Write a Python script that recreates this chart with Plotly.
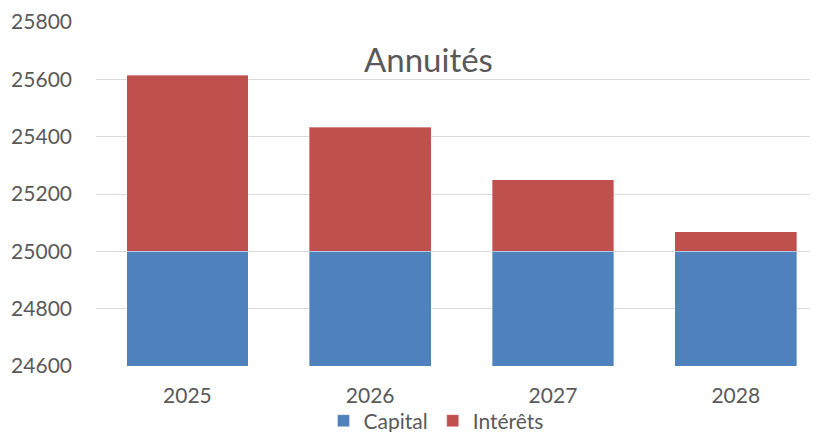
import plotly.graph_objects as go

years = ["2025", "2026", "2027", "2028"]
capital = [25000, 25000, 25000, 25000]
interets = [615, 433, 250, 68]

FONT = "Lato"
GREY = "#595959"

# the page body adds an 8px offset; work in figure pixels (page - 8)
OFF = 8
W, H = 818 - OFF, 432 - OFF
L, R, T, B = 96 - OFF, 818 - OFF, 22 - OFF, 366 - OFF  # plot area in figure pixels

fig = go.Figure()
fig.add_trace(go.Bar(x=years, y=capital, name="Capital",
                     marker=dict(color="#4F81BD", line=dict(color="rgba(255,255,255,0.35)", width=1))))
fig.add_trace(go.Bar(x=years, y=interets, name="Intérêts",
                     marker=dict(color="#C0504D", line=dict(color="rgba(255,255,255,0.35)", width=1))))

fig.update_layout(
    barmode="stack",
    bargap=0.334,
    width=W, height=H,
    margin=dict(l=L, r=W - R, t=T, b=H - B, autoexpand=False),
    paper_bgcolor="white", plot_bgcolor="white",
    font=dict(family=FONT, color=GREY, size=21),
    showlegend=True,
    legend=dict(orientation="h", x=(436 - OFF - L) / (R - L), xanchor="center",
                y=(B - (421 - OFF)) / (B - T), yanchor="middle",
                bgcolor="rgba(0,0,0,0)", itemwidth=30,
                font=dict(size=21, color=GREY), traceorder="normal"),
    annotations=[dict(text="Annuités", x=(428 - OFF - L) / (R - L),
                      y=(B - (59 - OFF)) / (B - T),
                      xref="paper", yref="paper",
                      showarrow=False, font=dict(size=33, color=GREY, family=FONT),
                      xanchor="center", yanchor="middle")],
)

fig.update_yaxes(range=[24600, 25800], dtick=200, tickformat="d", showgrid=True,
                 gridcolor="#D9D9D9", gridwidth=1, zeroline=False, showline=False,
                 ticks="", ticklabelstandoff=23, tickfont=dict(size=21, color=GREY))
fig.update_xaxes(range=[-0.5, 3.45], showgrid=False, showline=False, ticks="",
                 ticklabelstandoff=15, tickfont=dict(size=21, color=GREY))

fig.write_html("out.html")
